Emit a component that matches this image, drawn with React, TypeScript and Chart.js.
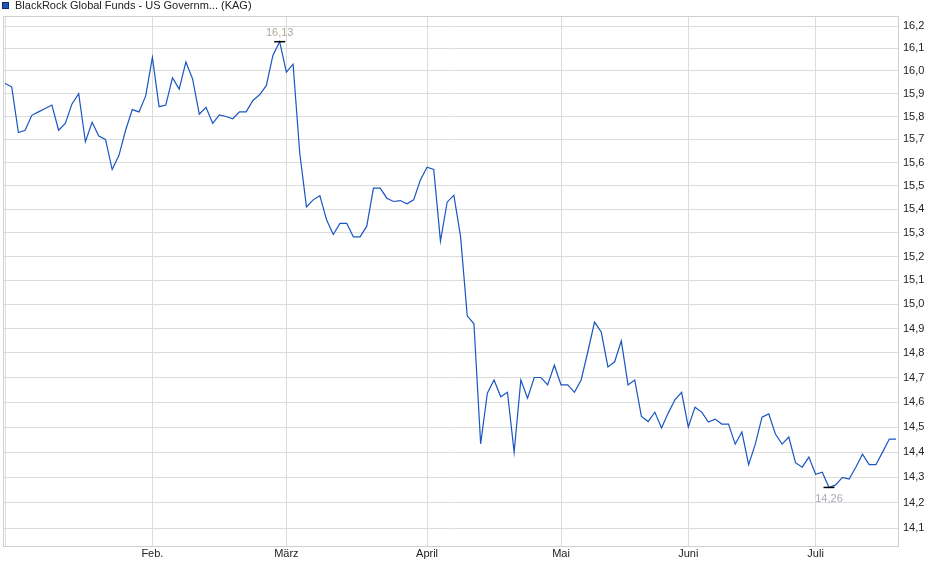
import React, { useEffect, useRef } from 'react';
import { Chart, registerables } from 'chart.js';

Chart.register(...registerables);

// Price per trading day, January to July
const prices: number[] = [
  // Jan
  15.945, 15.93, 15.73, 15.74, 15.805, 15.82, 15.835, 15.85, 15.74, 15.77, 15.855,
  15.90, 15.69, 15.775, 15.715, 15.70, 15.57, 15.63, 15.74, 15.83, 15.82, 15.89,
  // Feb
  16.06, 15.843, 15.85, 15.97, 15.92, 16.04, 15.965, 15.81, 15.84, 15.77,
  15.807, 15.80, 15.79, 15.82, 15.82, 15.87, 15.895, 15.935, 16.07, 16.13,
  // Mar
  15.995, 16.03, 15.64, 15.41, 15.44, 15.458, 15.355, 15.293, 15.34, 15.34, 15.283,
  15.283, 15.328, 15.49, 15.49, 15.447, 15.433, 15.437, 15.423, 15.44, 15.525,
  // Apr
  15.58, 15.57, 15.265, 15.43, 15.46, 15.285, 14.953, 14.92, 14.433, 14.636,
  14.69, 14.622, 14.64, 14.40, 14.69, 14.616, 14.70, 14.70, 14.67, 14.75,
  // May
  14.67, 14.67, 14.64, 14.69, 14.805, 14.927, 14.886, 14.743, 14.764, 14.85,
  14.67, 14.69, 14.543, 14.522, 14.56, 14.496, 14.556, 14.61, 14.64,
  // Jun
  14.50, 14.58, 14.56, 14.52, 14.532, 14.512, 14.512, 14.432, 14.48, 14.35,
  14.432, 14.54, 14.553, 14.472, 14.432, 14.46, 14.358, 14.34, 14.38,
  // Jul
  14.312, 14.32, 14.26, 14.27, 14.30, 14.293, 14.34, 14.392, 14.35, 14.35,
  14.40, 14.452, 14.452,
];

// first trading day of each month (index into prices)
const monthStarts: number[] = [0, 22, 42, 63, 83, 102, 121];
const monthLabels: string[] = ['', 'Feb.', 'März', 'April', 'Mai', 'Juni', 'Juli'];

const yTicks: number[] = [
  14.1, 14.2, 14.3, 14.4, 14.5, 14.6, 14.7, 14.8, 14.9, 15.0, 15.1,
  15.2, 15.3, 15.4, 15.5, 15.6, 15.7, 15.8, 15.9, 16.0, 16.1, 16.2,
];

const seriesName = 'BlackRock Global Funds - US Governm... (KAG)';

const FONT = 'Arial, "Liberation Sans", sans-serif';
const GRID = '#dcdcdc';

const fmt = (v: number) => v.toFixed(2).replace('.', ',');

// legend in the top left corner
const headerPlugin = {
  id: 'header',
  afterDraw(chart: Chart) {
    const ctx = chart.ctx;
    ctx.save();
    ctx.fillStyle = '#1f56b8';
    ctx.fillRect(2, 2, 7, 7);
    ctx.strokeStyle = '#0c2c6c';
    ctx.lineWidth = 1;
    ctx.strokeRect(2.5, 2.5, 6, 6);
    ctx.fillStyle = '#222';
    ctx.font = `11px ${FONT}`;
    ctx.textBaseline = 'middle';
    ctx.textAlign = 'left';
    ctx.fillText(seriesName, 15, 6);
    ctx.restore();
  },
};

// top and left frame of the plot area
const framePlugin = {
  id: 'frame',
  beforeDatasetsDraw(chart: Chart) {
    const { ctx, chartArea } = chart;
    ctx.save();
    ctx.strokeStyle = '#cfcfcf';
    ctx.lineWidth = 1;
    ctx.beginPath();
    ctx.moveTo(chartArea.left + 0.5, chartArea.bottom);
    ctx.lineTo(chartArea.left + 0.5, chartArea.top + 0.5);
    ctx.lineTo(chartArea.right, chartArea.top + 0.5);
    ctx.stroke();
    ctx.restore();
  },
};

// high / low markers
const extremaPlugin = {
  id: 'extrema',
  afterDatasetsDraw(chart: Chart) {
    const meta = chart.getDatasetMeta(0);
    let hi = 0;
    let lo = 0;
    prices.forEach((v, i) => {
      if (v > prices[hi]) hi = i;
      if (v < prices[lo]) lo = i;
    });
    const ctx = chart.ctx;
    ctx.save();
    ctx.font = `11px ${FONT}`;
    ctx.textAlign = 'center';
    ctx.textBaseline = 'middle';
    ctx.strokeStyle = '#000';
    ctx.lineWidth = 1.5;

    const pHi = meta.data[hi];
    ctx.beginPath();
    ctx.moveTo(pHi.x - 5.5, pHi.y);
    ctx.lineTo(pHi.x + 5.5, pHi.y);
    ctx.stroke();
    ctx.fillStyle = '#b3a898';
    ctx.fillText(fmt(prices[hi]), pHi.x, pHi.y - 9);

    const pLo = meta.data[lo];
    ctx.beginPath();
    ctx.moveTo(pLo.x - 5.5, pLo.y);
    ctx.lineTo(pLo.x + 5.5, pLo.y);
    ctx.stroke();
    ctx.fillStyle = '#a9adb6';
    ctx.fillText(fmt(prices[lo]), pLo.x, pLo.y + 12);
    ctx.restore();
  },
};

const App: React.FC = () => {
  const canvasRef = useRef<HTMLCanvasElement>(null);
  const chartRef = useRef<Chart | null>(null);

  useEffect(() => {
    document.body.style.margin = '0';
    if (!canvasRef.current) return;
    if (chartRef.current) chartRef.current.destroy();

    chartRef.current = new Chart(canvasRef.current, {
      type: 'line',
      data: {
        datasets: [
          {
            label: seriesName,
            data: prices.map((v, i) => ({ x: i, y: v })),
            borderColor: '#1a55c2',
            borderWidth: 1.2,
            pointRadius: 0,
            tension: 0,
            fill: false,
          },
        ],
      },
      options: {
        responsive: false,
        animation: false,
        layout: { padding: { left: 3, top: 16, right: 0, bottom: 0 } },
        plugins: {
          legend: { display: false },
          tooltip: { enabled: false },
        },
        scales: {
          x: {
            type: 'linear',
            min: -0.3,
            max: 133.3,
            bounds: 'data',
            afterBuildTicks: (axis: any) => {
              axis.ticks = monthStarts.map((v) => ({ value: v }));
            },
            afterFit: (axis: any) => {
              axis.height = 33;
            },
            grid: { color: GRID, drawTicks: false },
            border: { color: '#cfcfcf' },
            ticks: {
              autoSkip: false,
              maxRotation: 0,
              padding: 1,
              color: '#222',
              font: { family: FONT, size: 11 },
              callback: (value: any) => {
                const k = monthStarts.indexOf(Number(value));
                return k >= 0 ? monthLabels[k] : '';
              },
            },
          },
          y: {
            type: 'logarithmic',
            position: 'right',
            min: 14.031,
            max: 16.245,
            bounds: 'data',
            afterBuildTicks: (axis: any) => {
              axis.ticks = yTicks.map((v) => ({ value: v }));
            },
            afterFit: (axis: any) => {
              axis.width = 42;
            },
            grid: { color: GRID, drawTicks: false },
            border: { color: '#cfcfcf' },
            ticks: {
              padding: 5,
              color: '#222',
              font: { family: FONT, size: 11 },
              callback: (value: any) => Number(value).toFixed(1).replace('.', ','),
            },
          },
        },
      },
      plugins: [headerPlugin, framePlugin, extremaPlugin],
    });

    return () => {
      if (chartRef.current) {
        chartRef.current.destroy();
        chartRef.current = null;
      }
    };
  }, []);

  return (
    <div style={{ width: 940, height: 579, background: '#fff' }}>
      <canvas ref={canvasRef} width={940} height={579} style={{ display: 'block' }} />
    </div>
  );
};

export default App;
